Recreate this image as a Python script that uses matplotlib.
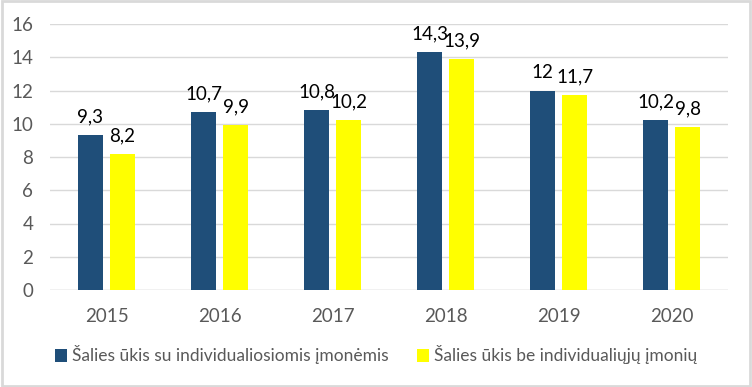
import matplotlib

matplotlib.use('agg')
import matplotlib.pyplot as plt
from matplotlib.patches import Rectangle
import numpy as np

years = ['2015', '2016', '2017', '2018', '2019', '2020']
su_ind = [9.3, 10.7, 10.8, 14.3, 12, 10.2]
be_ind = [8.2, 9.9, 10.2, 13.9, 11.7, 9.8]
labels = ['Šalies ūkis su individualiosiomis įmonėmis', 'Šalies ūkis be individualiųjų įmonių']

plt.rcParams['font.family'] = ['Lato', 'DejaVu Sans']

fig = plt.figure(figsize=(7.52, 3.87), dpi=100)
ax = fig.add_axes([50 / 752, 1 - 290 / 387, 678 / 752, 266 / 387])

x = np.arange(len(years))
w = 0.22
off = 0.142
b1 = ax.bar(x - off, su_ind, w, color='#1F4E79', label=labels[0], zorder=3)
b2 = ax.bar(x + off, be_ind, w, color='#FFFF00', label=labels[1], zorder=3)

def fmt(v):
    return ('%g' % v).replace('.', ',')

for bars, vals in ((b1, su_ind), (b2, be_ind)):
    for r, v in zip(bars, vals):
        ax.annotate(fmt(v), (r.get_x() + r.get_width() / 2, v), xytext=(0, 7),
                    textcoords='offset points', ha='center', va='bottom',
                    fontsize=13.5, color='#000000')

ax.set_xlim(-0.5, len(years) - 0.5)
ax.set_ylim(0, 16)
ax.set_yticks(range(0, 17, 2))
ax.set_xticks(x)
ax.set_xticklabels(years)
ax.yaxis.grid(True, color='#D9D9D9', lw=1, zorder=0)
ax.tick_params(axis='both', length=0, labelsize=13.5, labelcolor='#595959')
ax.tick_params(axis='x', pad=13)
ax.tick_params(axis='y', pad=12)
for s in ax.spines.values():
    s.set_visible(False)
ax.axhline(0, color='#D9D9D9', lw=1, zorder=1)

fig.legend(handles=[b1, b2], loc='center', bbox_to_anchor=(0.5, 1 - 355 / 387), ncol=2,
           frameon=False, fontsize=12.5, handlelength=0.7, handleheight=0.7,
           handletextpad=0.3, columnspacing=1.6, labelcolor='#595959')

fig.patches.append(Rectangle((0.002, 0.003), 0.995, 0.994, transform=fig.transFigure,
                             fill=False, edgecolor='#D9D9D9', lw=2))

fig.savefig('out.png', dpi=100)
